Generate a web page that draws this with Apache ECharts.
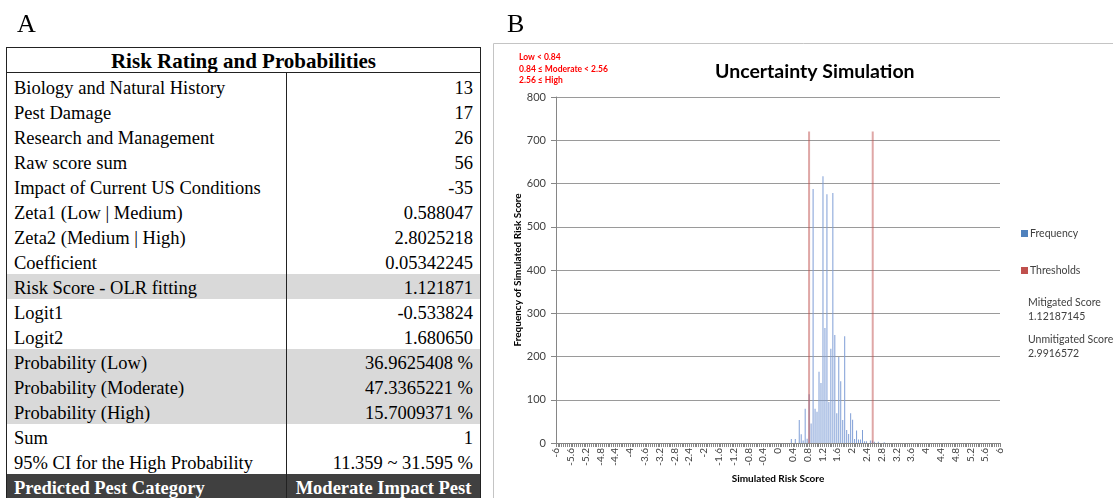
<!DOCTYPE html>
<html>
<head>
<meta charset="utf-8">
<script src="https://cdn.jsdelivr.net/npm/echarts/dist/echarts.min.js"></script>
<style>
html,body{margin:0;padding:0;width:1113px;height:498px;overflow:hidden;background:#fff;}
#chart{position:absolute;left:0;top:0;width:1113px;height:498px;}
.panel{position:absolute;font-family:"Liberation Serif","Times New Roman",serif;font-size:26px;color:#000;line-height:1;}
#tbl{position:absolute;left:6px;top:47px;width:475px;height:470px;border:1px solid #222;box-sizing:border-box;background:#fff;font-family:"Liberation Serif","Times New Roman",serif;font-size:18.5px;color:#000;overflow:hidden;}
#tbl .hdr{position:absolute;left:0;top:0;width:100%;height:24px;line-height:27px;text-align:center;font-weight:bold;font-size:21px;border-bottom:1px solid #222;}
#tbl .row{position:absolute;left:0;width:100%;height:25px;line-height:29px;}
#tbl .row.shade{background:#d9d9d9;}
#tbl .row.dark{background:#404040;color:#fff;font-weight:bold;}
#tbl .c1{position:absolute;left:7px;top:0;white-space:nowrap;}
#tbl .c2{position:absolute;right:7px;top:0;white-space:nowrap;text-align:right;}
#tbl .c2.mid{right:auto;left:280px;width:193px;text-align:center;}
#tbl .div{position:absolute;left:279px;top:25px;width:1px;height:460px;background:#222;}
</style>
</head>
<body>
<div id="chart"></div>
<div class="panel" style="left:17px;top:11px;">A</div>
<div class="panel" style="left:507px;top:11px;">B</div>
<div id="tbl"></div>
<script>
// ---------- Panel A table data ----------
const tableTitle = "Risk Rating and Probabilities";
const rowLabels = ["Biology and Natural History","Pest Damage","Research and Management","Raw score sum","Impact of Current US Conditions","Zeta1 (Low | Medium)","Zeta2 (Medium | High)","Coefficient","Risk Score - OLR fitting","Logit1","Logit2","Probability (Low)","Probability (Moderate)","Probability (High)","Sum","95% CI for the High Probability"];
const rowValues = ["13","17","26","56","-35","0.588047","2.8025218","0.05342245","1.121871","-0.533824","1.680650","36.9625408 %","47.3365221 %","15.7009371 %","1","11.359 ~ 31.595 %"];
const resultLabel = "Predicted Pest Category";
const resultValue = "Moderate Impact Pest";
const shadedRows = ["Risk Score - OLR fitting","Probability (Low)","Probability (Moderate)","Probability (High)"];

// ---------- Panel B chart data ----------
const chartTitle = "Uncertainty Simulation";
const categoryNotes = ["Low < 0.84", "0.84 \u2264 Moderate < 2.56", "2.56 \u2264 High"];
const freqScore = [0.374,0.481,0.588,0.641,0.694,0.748,0.801,0.855,0.908,0.962,1.015,1.068,1.122,1.175,1.229,1.282,1.336,1.389,1.442,1.496,1.549,1.603,1.656,1.709,1.763,1.816,1.870,1.923,1.977,2.030,2.083,2.137,2.190,2.244,2.297,2.351,2.404,2.511,2.564,2.618,2.725,2.885];
const freqCount = [9,9,53,20,6,79,10,113,45,587,79,72,165,139,617,266,575,95,218,578,250,69,199,143,53,247,30,21,69,54,9,29,8,8,30,4,4,6,6,3,3,2];
const thresholdScore = [0.84, 2.56];
const thresholdHeight = [720, 720];
const scoreNotes = ["Mitigated Score", "1.12187145", "Unmitigated Score", "2.9916572"];

// ---------- build table ----------
(function(){
  const t = document.getElementById('tbl');
  let h = '<div class="hdr">' + tableTitle + '</div>';
  rowLabels.forEach((lab, i) => {
    const cls = shadedRows.indexOf(lab) >= 0 ? 'row shade' : 'row';
    h += '<div class="' + cls + '" style="top:' + (26 + i*25) + 'px"><span class="c1">' + lab + '</span><span class="c2">' + rowValues[i] + '</span></div>';
  });
  h += '<div class="row dark" style="top:' + (26 + rowLabels.length*25) + 'px"><span class="c1">' + resultLabel + '</span><span class="c2 mid">' + resultValue + '</span></div>';
  h += '<div class="div"></div>';
  t.innerHTML = h;
})();

// ---------- chart ----------
const chart = echarts.init(document.getElementById('chart'));
const font = 'Lato, "Open Sans", sans-serif';
const option = {
  animation: false,
  title: {
    text: chartTitle, left: 710, top: 57,
    textStyle: { fontFamily: font, fontWeight: 'bold', fontSize: 19.5, color: '#000' }
  },
  legend: {
    orient: 'vertical', left: 1016, top: 223, itemGap: 26,
    itemWidth: 7, itemHeight: 7, icon: 'rect',
    textStyle: { fontFamily: font, fontSize: 10.5, color: '#404040', padding: [0,0,0,-3] },
    data: [
      { name: 'Frequency', itemStyle: { color: '#4F81BD' } },
      { name: 'Thresholds', itemStyle: { color: '#C0504D' } }
    ]
  },
  grid: { left: 556, right: 113, top: 97, bottom: 55 },
  xAxis: {
    type: 'value', min: -6, max: 6, interval: 0.4,
    name: 'Simulated Risk Score', nameLocation: 'middle', nameGap: 31,
    nameTextStyle: { fontFamily: font, fontWeight: 'bold', fontSize: 10, color: '#000' },
    axisLine: { show: true, onZero: false, lineStyle: { color: '#868686' } },
    axisTick: { show: true, length: 4, lineStyle: { color: '#868686' } },
    minorTick: { show: true, splitNumber: 8, length: 4, lineStyle: { color: '#868686' } },
    splitLine: { show: false },
    axisLabel: {
      rotate: 90, fontSize: 10, color: '#404040', fontFamily: font, margin: 5,
      formatter: v => String(Math.round(v * 10) / 10)
    }
  },
  yAxis: {
    type: 'value', min: 0, max: 800, interval: 100,
    name: 'Frequency of Simulated Risk Score', nameLocation: 'middle', nameRotate: 90, nameGap: 25,
    nameTextStyle: { fontFamily: font, fontWeight: 'bold', fontSize: 10, color: '#000' },
    axisLine: { show: true, onZero: false, lineStyle: { color: '#868686' } },
    axisTick: { show: true, length: 5, lineStyle: { color: '#868686' } },
    splitLine: { show: true, lineStyle: { color: '#9a9a9a' } },
    axisLabel: { fontSize: 11, color: '#404040', fontFamily: font, margin: 10 }
  },
  series: [
    {
      name: 'Frequency', type: 'bar', barWidth: 1, barGap: '-100%',
      itemStyle: { color: '#7f9ed6' },
      data: freqScore.map((s, i) => [s, freqCount[i]])
    },
    {
      name: 'Thresholds', type: 'bar', barWidth: 2, barGap: '-100%',
      itemStyle: { color: 'rgba(192,80,77,0.5)' },
      data: thresholdScore.map((s, i) => [s, thresholdHeight[i]])
    }
  ],
  graphic: [
    { type: 'rect', silent: true, shape: { x: 493.5, y: 43.5, width: 700, height: 500 },
      style: { fill: 'none', stroke: '#c4c4c4', lineWidth: 1 } },
    { type: 'text', left: 519, top: 52, silent: true,
      style: { text: categoryNotes.join('\n'), fill: '#ff0000', font: 'bold 8.5px ' + font, lineHeight: 11.5 } },
    { type: 'text', left: 1028, top: 296, silent: true,
      style: { text: scoreNotes[0] + '\n' + scoreNotes[1], fill: '#404040', font: '10.5px ' + font, lineHeight: 14 } },
    { type: 'text', left: 1028, top: 333, silent: true,
      style: { text: scoreNotes[2] + '\n' + scoreNotes[3], fill: '#404040', font: '10.5px ' + font, lineHeight: 14 } }
  ]
};
chart.setOption(option);
</script>
</body>
</html>
